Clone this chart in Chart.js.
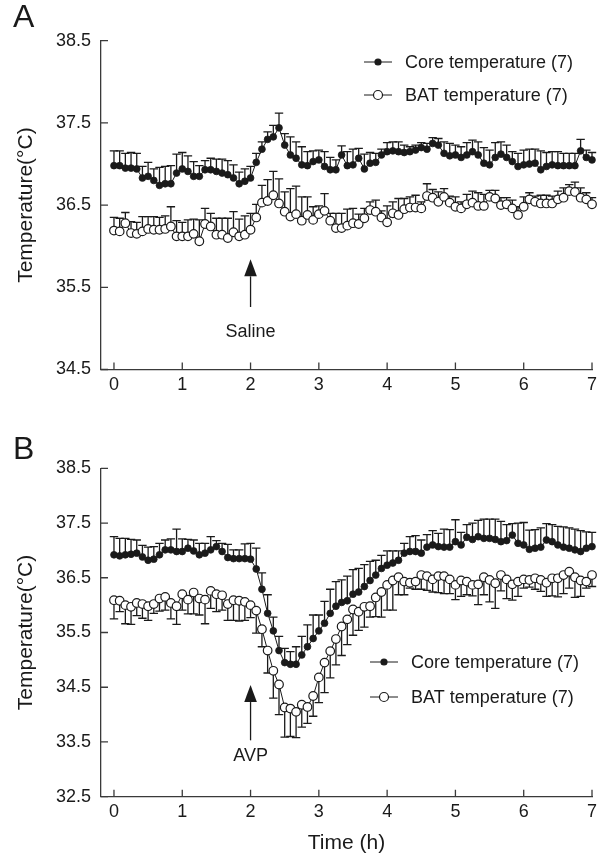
<!DOCTYPE html>
<html>
<head>
<meta charset="utf-8">
<script src="https://cdn.jsdelivr.net/npm/chart.js@4.4.1/dist/chart.umd.min.js"></script>
<style>
  html, body { margin: 0; padding: 0; background: #fff; }
  #wrap { position: relative; width: 604px; height: 866px; font-family: "Liberation Sans", Arial, sans-serif; color: #1a1a1a; }
  canvas { position: absolute; left: 0; }
  .panel-label { position: absolute; left: 13px; font-size: 32px; line-height: 1; }
</style>
</head>
<body>
<div id="wrap">
  <canvas id="chartA" width="604" height="420" style="top:0"></canvas>
  <canvas id="chartB" width="604" height="446" style="top:420px"></canvas>
  <div class="panel-label" style="top:0px">A</div>
  <div class="panel-label" style="top:432px">B</div>
</div>
<script>
// Time axis: one reading every 5 min, 0 to 7 h
const xTicks = [0, 1, 2, 3, 4, 5, 6, 7];
const yTicksA = [34.5, 35.5, 36.5, 37.5, 38.5];
const yTicksB = [32.5, 33.5, 34.5, 35.5, 36.5, 37.5, 38.5];

// Panel A - saline
const coreA = [36.98, 36.98, 36.95, 36.95, 36.94, 36.83, 36.85, 36.80, 36.74, 36.76, 36.76, 36.89,
  36.94, 36.91, 36.85, 36.85, 36.93, 36.93, 36.91, 36.89, 36.87, 36.83, 36.76, 36.79,
  36.83, 37.02, 37.18, 37.30, 37.33, 37.44, 37.23, 37.11, 37.07, 36.99, 36.98, 37.03,
  37.05, 36.97, 36.93, 36.93, 37.11, 36.98, 36.99, 37.07, 36.94, 37.01, 37.02, 37.11,
  37.15, 37.16, 37.15, 37.14, 37.15, 37.17, 37.20, 37.18, 37.25, 37.23, 37.13, 37.10,
  37.11, 37.08, 37.11, 37.15, 37.11, 37.01, 36.99, 37.08, 37.12, 37.08, 37.03, 36.97,
  36.99, 37.00, 37.01, 36.93, 36.97, 36.99, 36.98, 36.98, 36.98, 36.98, 37.16, 37.08, 37.05];
const coreErrA = [.18, .18, .18, .19, .19, .14, .17, .14, .22, .21, .22, .23,
  .20, .19, .18, .13, .11, .14, .15, .17, .17, .16, .14, .15,
  .14, .11, .09, .09, .14, .18, .14, .22, .20, .22, .17, .13,
  .12, .18, .15, .12, .11, .17, .19, .12, .18, .13, .11, .07,
  .11, .11, .12, .09, .06, .06, .06, .07, .07, .08, .14, .15,
  .12, .13, .15, .14, .16, .19, .18, .18, .15, .15, .12, .16,
  .18, .18, .17, .23, .17, .16, .17, .15, .15, .15, .14, .09, .09];
const batA = [36.19, 36.18, 36.28, 36.16, 36.15, 36.18, 36.21, 36.20, 36.20, 36.21, 36.24, 36.12,
  36.12, 36.12, 36.15, 36.06, 36.27, 36.24, 36.14, 36.14, 36.10, 36.17, 36.12, 36.14,
  36.20, 36.35, 36.53, 36.55, 36.62, 36.52, 36.42, 36.36, 36.39, 36.31, 36.38, 36.32,
  36.39, 36.43, 36.31, 36.22, 36.22, 36.25, 36.28, 36.27, 36.34, 36.44, 36.42, 36.35,
  36.29, 36.40, 36.38, 36.45, 36.47, 36.47, 36.46, 36.61, 36.59, 36.54, 36.60, 36.53,
  36.48, 36.46, 36.51, 36.53, 36.49, 36.49, 36.60, 36.58, 36.50, 36.51, 36.46, 36.38,
  36.48, 36.57, 36.54, 36.52, 36.52, 36.52, 36.57, 36.59, 36.67, 36.66, 36.59, 36.57, 36.51];
const batErrA = [.16, .16, .13, .14, .14, .18, .15, .16, .15, .16, .24, .19,
  .17, .20, .18, .26, .19, .16, .20, .20, .24, .25, .21, .23,
  .20, .16, .21, .26, .29, .30, .24, .34, .34, .29, .22, .16,
  .10, .21, .09, .18, .18, .20, .18, .12, .12, .10, .14, .08,
  .20, .14, .20, .13, .13, .15, .08, .15, .10, .12, .10, .08,
  .12, .08, .12, .14, .16, .14, .08, .10, .09, .08, .10, .10,
  .12, .08, .07, .10, .10, .09, .10, .12, .08, .12, .12, .08, .08];

// Panel B - AVP
const coreB = [36.92, 36.90, 36.92, 36.93, 36.95, 36.88, 36.82, 36.84, 36.92, 37.01, 37.01, 36.98,
  36.98, 37.04, 36.99, 36.92, 36.95, 37.01, 37.07, 36.98, 36.87, 36.85, 36.85, 36.85,
  36.84, 36.66, 36.29, 35.85, 35.53, 35.17, 34.95, 34.92, 34.92, 35.09, 35.24, 35.39,
  35.53, 35.67, 35.85, 35.98, 36.05, 36.08, 36.20, 36.24, 36.34, 36.45, 36.55, 36.67,
  36.73, 36.77, 36.82, 36.95, 36.98, 36.98, 36.95, 37.06, 37.10, 37.07, 37.06, 37.06,
  37.16, 37.10, 37.24, 37.20, 37.25, 37.22, 37.22, 37.20, 37.16, 37.18, 37.28, 37.13,
  37.10, 37.02, 37.04, 37.06, 37.19, 37.16, 37.10, 37.06, 37.04, 37.01, 36.98, 37.04, 37.07];
const coreErrB = [.33, .32, .30, .27, .24, .21, .24, .23, .21, .18, .20, .41,
  .23, .16, .20, .21, .18, .24, .11, .15, .24, .16, .16, .27,
  .29, .38, .30, .34, .25, .26, .26, .23, .32, .34, .40, .43,
  .29, .40, .44, .45, .41, .45, .45, .43, .40, .35, .27, .24,
  .26, .22, .17, .18, .27, .29, .24, .23, .26, .24, .33, .32,
  .40, .23, .23, .30, .30, .35, .35, .37, .37, .29, .21, .37,
  .41, .35, .34, .35, .30, .31, .34, .37, .37, .38, .38, .30, .26];
const batB = [36.09, 36.08, 36.00, 35.97, 36.04, 36.02, 35.98, 36.02, 36.12, 36.15, 36.04, 35.98,
  36.20, 36.10, 36.23, 36.12, 36.10, 36.26, 36.20, 36.18, 36.02, 36.09, 36.08, 36.06,
  36.00, 35.90, 35.56, 35.17, 34.80, 34.55, 34.13, 34.11, 34.05, 34.18, 34.14, 34.34,
  34.68, 34.95, 35.16, 35.38, 35.61, 35.74, 35.92, 35.88, 35.97, 35.98, 36.14, 36.24,
  36.37, 36.45, 36.51, 36.43, 36.41, 36.43, 36.55, 36.53, 36.47, 36.53, 36.53, 36.47,
  36.37, 36.45, 36.43, 36.37, 36.38, 36.51, 36.46, 36.40, 36.55, 36.47, 36.38, 36.43,
  36.47, 36.46, 36.49, 36.46, 36.41, 36.49, 36.49, 36.55, 36.61, 36.51, 36.45, 36.43, 36.55];
const batErrB = [.34, .20, .34, .32, .23, .26, .26, .17, .23, .24, .29, .33,
  .29, .26, .39, .30, .44, .32, .32, .27, .30, .37, .37, .34,
  .23, .41, .32, .41, .50, .55, .54, .51, .47, .41, .30, .37,
  .46, .55, .49, .47, .53, .46, .47, .34, .37, .20, .35, .46,
  .46, .54, .32, .24, .10, .14, .26, .26, .23, .30, .32, .26,
  .27, .29, .24, .20, .37, .32, .40, .46, .29, .35, .29, .27,
  .16, .13, .20, .21, .25, .32, .34, .34, .30, .37, .29, .12, .21];

const ink = '#1a1a1a';
const axisColor = '#3a3a3a';
const fontFamily = '"Liberation Sans", Arial, Helvetica, sans-serif';
Chart.defaults.font.family = fontFamily;
Chart.defaults.color = ink;

function toPoints(values) {
    // readings are 5 minutes apart
    return values.map((v, i) => ({ x: i * 5 / 60, y: v }));
}

// Vertical SEM bars, drawn under the markers
const errorBars = {
    id: 'errorBars',
    beforeDatasetsDraw(chart) {
        const { ctx, scales: { x, y } } = chart;
        ctx.save();
        ctx.strokeStyle = ink;
        ctx.lineWidth = 1.3;
        chart.data.datasets.forEach(ds => {
            if (!ds.errors) return;
            ds.data.forEach((p, i) => {
                const px = x.getPixelForValue(p.x);
                const py = y.getPixelForValue(p.y);
                const ey = y.getPixelForValue(p.y + ds.errDir * ds.errors[i]);
                ctx.beginPath();
                ctx.moveTo(px, py);
                ctx.lineTo(px, ey);
                ctx.moveTo(px - 4.2, ey);
                ctx.lineTo(px + 4.2, ey);
                ctx.stroke();
            });
        });
        ctx.restore();
    }
};

// Tick marks pointing into the plot, arrow note and legend
const panelExtras = {
    id: 'panelExtras',
    afterDraw(chart, args, opts) {
        const { ctx, chartArea: a, scales: { x, y } } = chart;
        ctx.save();
        ctx.strokeStyle = axisColor;
        ctx.lineWidth = 1.3;
        ctx.beginPath();
        x.ticks.forEach(t => {
            const px = x.getPixelForValue(t.value);
            ctx.moveTo(px, a.bottom);
            ctx.lineTo(px, a.bottom - 7);
        });
        y.ticks.forEach(t => {
            const py = y.getPixelForValue(t.value);
            ctx.moveTo(a.left, py);
            ctx.lineTo(a.left + 7, py);
        });
        ctx.stroke();

        // injection arrow
        const ar = opts.arrow;
        const ax = x.getPixelForValue(ar.x);
        const tip = y.getPixelForValue(ar.tip);
        const headBase = tip + 17;
        const tail = y.getPixelForValue(ar.tail);
        ctx.strokeStyle = ink;
        ctx.fillStyle = ink;
        ctx.lineWidth = 1.3;
        ctx.beginPath();
        ctx.moveTo(ax, headBase);
        ctx.lineTo(ax, tail);
        ctx.stroke();
        ctx.beginPath();
        ctx.moveTo(ax, tip);
        ctx.lineTo(ax - 6.3, headBase);
        ctx.lineTo(ax + 6.3, headBase);
        ctx.closePath();
        ctx.fill();
        ctx.font = '18px ' + fontFamily;
        ctx.textAlign = 'center';
        ctx.textBaseline = 'middle';
        ctx.fillText(ar.label, ax, y.getPixelForValue(ar.labelY));

        // legend
        const lg = opts.legend;
        ctx.textAlign = 'left';
        lg.items.forEach((item, k) => {
            const ly = lg.top + k * lg.gap;
            ctx.strokeStyle = ink;
            ctx.lineWidth = 1;
            ctx.beginPath();
            ctx.moveTo(lg.left, ly);
            ctx.lineTo(lg.left + 28, ly);
            ctx.stroke();
            ctx.beginPath();
            ctx.arc(lg.left + 14, ly, item.filled ? 3 : 4.5, 0, Math.PI * 2);
            ctx.fillStyle = item.filled ? ink : '#fff';
            ctx.fill();
            ctx.lineWidth = 1.2;
            ctx.stroke();
            ctx.fillStyle = ink;
            ctx.fillText(item.text, lg.left + 41, ly + 1);
        });
        ctx.restore();
    }
};

function makePanel(canvasId, cfg) {
    const ctx = document.getElementById(canvasId).getContext('2d');
    return new Chart(ctx, {
        type: 'line',
        data: {
            datasets: [
                {
                    label: 'BAT temperature (7)',
                    data: toPoints(cfg.bat),
                    errors: cfg.batErr,
                    errDir: cfg.batDir,
                    borderColor: ink,
                    borderWidth: 1,
                    pointRadius: 4.3,
                    pointBorderWidth: 1.2,
                    pointBackgroundColor: '#fff',
                    pointBorderColor: ink,
                    tension: 0,
                    clip: false
                },
                {
                    label: 'Core temperature (7)',
                    data: toPoints(cfg.core),
                    errors: cfg.coreErr,
                    errDir: 1,
                    borderColor: ink,
                    borderWidth: 1,
                    pointRadius: 3.4,
                    pointBorderWidth: 0.8,
                    pointBackgroundColor: ink,
                    pointBorderColor: ink,
                    tension: 0,
                    clip: false
                }
            ]
        },
        options: {
            responsive: false,
            animation: false,
            events: [],
            layout: { padding: { top: cfg.padTop, right: 12, left: 0, bottom: 0 } },
            plugins: {
                legend: { display: false },
                tooltip: { enabled: false },
                panelExtras: { arrow: cfg.arrow, legend: cfg.legend }
            },
            scales: {
                x: {
                    type: 'linear',
                    min: -0.19,
                    max: 7,
                    afterBuildTicks: s => { s.ticks = xTicks.map(v => ({ value: v })); },
                    afterFit: s => { s.height = cfg.xHeight; },
                    ticks: { padding: 5, font: { size: 18 }, color: ink },
                    grid: { display: false, drawTicks: false },
                    border: { display: true, color: axisColor, width: 1.3 },
                    title: {
                        display: cfg.showTime,
                        text: 'Time (h)',
                        font: { size: 21 },
                        color: ink,
                        padding: { top: 0, bottom: 10 }
                    }
                },
                y: {
                    type: 'linear',
                    min: cfg.yTicks[0],
                    max: cfg.yTicks[cfg.yTicks.length - 1],
                    afterBuildTicks: s => { s.ticks = cfg.yTicks.map(v => ({ value: v })); },
                    afterFit: s => { s.width = 101; },
                    ticks: { padding: 10, font: { size: 18 }, color: ink, callback: v => v.toFixed(1) },
                    grid: { display: false, drawTicks: false },
                    border: { display: true, color: axisColor, width: 1.3 },
                    title: {
                        display: true,
                        text: 'Temperature(°C)',
                        font: { size: 21 },
                        color: ink,
                        padding: { top: 14, bottom: 0 }
                    }
                }
            }
        },
        plugins: [errorBars, panelExtras]
    });
}

makePanel('chartA', {
    core: coreA, coreErr: coreErrA,
    bat: batA, batErr: batErrA, batDir: 1,
    yTicks: yTicksA,
    padTop: 40.7,
    xHeight: 50.5,
    showTime: false,
    arrow: { x: 2, tip: 35.84, tail: 35.26, label: 'Saline', labelY: 34.96 },
    legend: {
        left: 364, top: 62, gap: 33,
        items: [
            { text: 'Core temperature (7)', filled: true },
            { text: 'BAT temperature (7)', filled: false }
        ]
    }
});

makePanel('chartB', {
    core: coreB, coreErr: coreErrB,
    bat: batB, batErr: batErrB, batDir: -1,
    yTicks: yTicksB,
    padTop: 48.3,
    xHeight: 69.3,
    showTime: true,
    arrow: { x: 2, tip: 34.54, tail: 33.53, label: 'AVP', labelY: 33.24 },
    legend: {
        left: 370, top: 242, gap: 35,
        items: [
            { text: 'Core temperature (7)', filled: true },
            { text: 'BAT temperature (7)', filled: false }
        ]
    }
});
</script>
</body>
</html>
